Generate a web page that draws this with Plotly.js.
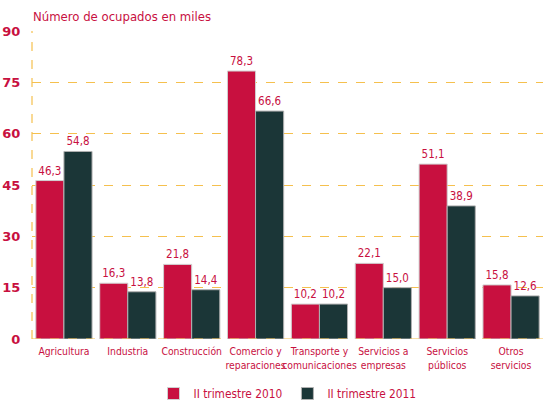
<!DOCTYPE html>
<html><head><meta charset="utf-8">
<script src="https://cdn.plot.ly/plotly-3.0.1.min.js"></script>
<style>body{margin:0}#c{width:543px;height:403px}</style>
</head><body><div id="c"></div>
<script>
var categories = ["Agricultura","Industria","Construcción","Comercio y<br>reparaciones","Transporte y<br>comunicaciones","Servicios a<br>empresas","Servicios<br>públicos","Otros<br>servicios"];
var values2010 = [46.3,16.3,21.8,78.3,10.2,22.1,51.1,15.8];
var values2011 = [54.8,13.8,14.4,66.6,10.2,15.0,38.9,12.6];
var yTicks = [0,15,30,45,60,75,90];
var red = "#c8103f", dark = "#1b3637", gold = "#f5c04e";
var narrow = "DejaVu Sans Condensed, sans-serif";
var common = {type:"bar", textposition:"outside", texttemplate:"%{y:.1f}", cliponaxis:false,
  textfont:{family:narrow, size:11.5, color:red}};
var t1 = Object.assign({}, common, {x:categories, y:values2010, name:"II trimestre 2010", marker:{color:red, line:{color:"#d0d0d0", width:1}}});
var t2 = Object.assign({}, common, {x:categories, y:values2011, name:"II trimestre 2011", marker:{color:dark, line:{color:"#b0b0b0", width:1}}});
var layout = {
  width:543, height:403, separators:",.",
  margin:{l:32, r:0, t:31, b:64, autoexpand:false},
  paper_bgcolor:"#fff", plot_bgcolor:"#fff",
  bargap:0.12, bargroupgap:0,
  showlegend:true,
  legend:{orientation:"h", x:0.5, xanchor:"center", yref:"container", y:(403-379)/403, yanchor:"top",
    font:{family:narrow, size:11.8, color:red}, itemwidth:30, traceorder:"normal"},
  title:{text:"Número de ocupados en miles", x:33/543, xanchor:"left", y:1-16/403, yanchor:"middle",
    font:{family:narrow, size:13, color:red}},
  xaxis:{type:"category", range:[-0.5,7.5], showgrid:false, zeroline:false, showline:false, automargin:false,
    tickangle:0, ticks:"outside", ticklen:3, tickcolor:"rgba(0,0,0,0)",
    tickfont:{family:narrow, size:10.3, color:red}, fixedrange:true},
  yaxis:{range:[0,90], tickvals:yTicks, showgrid:true, griddash:"dash", gridcolor:gold, gridwidth:1.2,
    zeroline:false, showline:false, automargin:false,
    ticks:"outside", ticklen:8, tickcolor:"rgba(0,0,0,0)",
    tickfont:{family:"DejaVu Sans, sans-serif", size:13, color:red, weight:"bold"}},
  shapes:[{type:"line", xref:"paper", yref:"y", x0:0, x1:1, y0:0, y1:0, line:{color:gold, width:1.2, dash:"dash"}},
          {type:"line", xref:"paper", yref:"paper", x0:0, x1:0, y0:0, y1:1, line:{color:gold, width:1.2, dash:"dash"}}]
};
Plotly.newPlot("c", [t1,t2], layout, {displayModeBar:false});
</script></body></html>
